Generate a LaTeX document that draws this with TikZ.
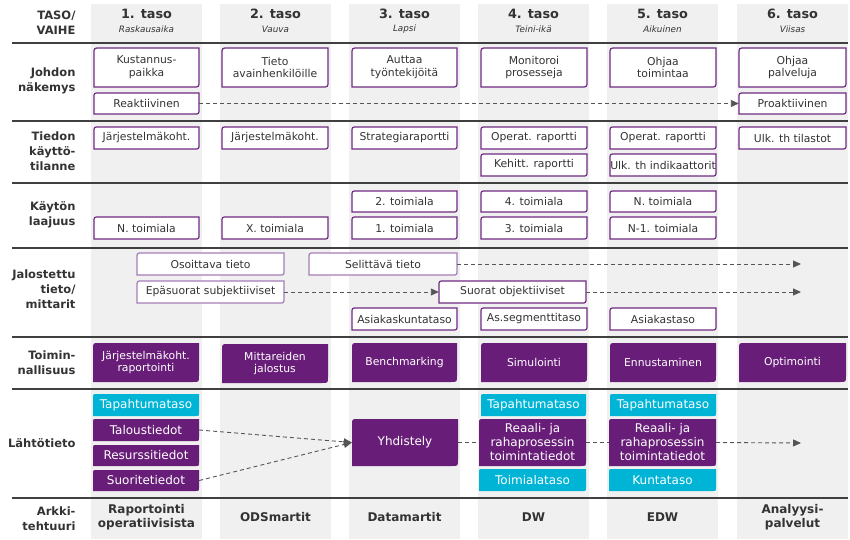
\documentclass[tikz,border=0pt]{standalone}
\usepackage{fontspec}
\setmainfont{DejaVu Sans}
\usetikzlibrary{arrows.meta}
\definecolor{pb}{HTML}{702B83}
\definecolor{pl}{HTML}{A67DB8}
\definecolor{pf}{HTML}{681E78}
\definecolor{cy}{HTML}{00B4D6}
\definecolor{colg}{HTML}{F0F0F0}
\definecolor{rulec}{HTML}{404040}
\definecolor{txt}{HTML}{333333}
\definecolor{dashc}{HTML}{555555}
\tikzset{
  wshape/.style={draw=pb, line width=1.2pt, fill=white},
  lshape/.style={draw=pl, line width=1.2pt, fill=white},
  fshape/.style={fill=pf},
  cshape/.style={fill=cy},
  wtext/.style={text=txt, font=\fontsize{10.8}{12.7}\selectfont, align=center},
  ftext/.style={text=white, font=\fontsize{10.8}{12.7}\selectfont, align=center},
  btext/.style={text=white, font=\fontsize{12}{14}\selectfont, align=center},
  rowlab/.style={anchor=east, text=txt, font=\fontsize{11.5}{14.8}\selectfont\bfseries, align=right},
  colhead/.style={text=txt, font=\fontsize{12.8}{14}\selectfont\bfseries},
  colsub/.style={text=txt, font=\fontsize{8.8}{10}\selectfont\itshape},
  archlab/.style={text=txt, font=\fontsize{12}{14}\selectfont\bfseries, align=center},
  rulel/.style={draw=rulec, line width=2.2pt},
  darrow/.style={draw=dashc, line width=0.9pt, dash pattern=on 4pt off 3pt, -{Triangle[length=8pt,width=7pt]}},
  dline/.style={draw=dashc, line width=0.9pt, dash pattern=on 4pt off 3pt}
}
% #1 shape style, #2 text style, #3 name, #4 x1, #5 y1, #6 x2, #7 y2, #8 radius, #9 text
\newcommand\bx[9]{%
  \path[#1] (#4,#7) -- (#4,{#5+#8}) .. controls (#4,#5) .. ({#4+#8},#5) -- (#6,#5) -- (#6,{#7-#8}) .. controls (#6,#7) .. ({#6-#8},#7) -- cycle;
  \node[#2, minimum width={#6pt-#4pt}, minimum height={#7pt-#5pt}, inner sep=0pt] (#3) at ({(#4+#6)/2},{(#5+#7)/2}) {#9};
}
\begin{document}
\begin{tikzpicture}[x=1pt,y=-1pt]
\useasboundingbox (0,0) rectangle (850,539);
% gray columns
\foreach \xl in {91,220,349,478,607,737} {
  \fill[colg] (\xl,4) rectangle ({\xl+111},539);
}
% rules
\foreach \yy in {43,121,183,248,337,389,498} {
  \draw[rulel] (12,\yy) -- (848,\yy);
}
% column headers
\node[colhead] (h1) at (146.5,14) {1. taso};
\node[colsub] (s1) at (146.5,29.5) {Raskausaika};
\node[colhead] (h2) at (275.5,14) {2. taso};
\node[colsub] (s2) at (275.5,29.5) {Vauva};
\node[colhead] (h3) at (404.5,14) {3. taso};
\node[colsub] (s3) at (404.5,29.5) {Lapsi};
\node[colhead] (h4) at (533.5,14) {4. taso};
\node[colsub] (s4) at (533.5,29.5) {Teini-ikä};
\node[colhead] (h5) at (662.5,14) {5. taso};
\node[colsub] (s5) at (662.5,29.5) {Aikuinen};
\node[colhead] (h6) at (792.5,14) {6. taso};
\node[colsub] (s6) at (792.5,29.5) {Viisas};
% row labels
\node[rowlab] (r0) at (79,23) {TASO/\\VAIHE};
\node[rowlab] (r1) at (79,81) {Johdon\\näkemys};
\node[rowlab] (r2) at (79,151) {Tiedon\\käyttö-\\tilanne};
\node[rowlab] (r3) at (79,215) {Käytön\\laajuus};
\node[rowlab] (r4) at (79,289) {Jalostettu\\tieto/\\mittarit};
\node[rowlab] (r5) at (79,363) {Toimin-\\nallisuus};
\node[rowlab] (r6) at (79,443) {Lähtötieto};
\node[rowlab] (r7) at (79,519) {Arkki-\\tehtuuri};
% Johdon näkemys
\bx{wshape}{wtext}{jn1}{94}{48}{199}{87}{6}{Kustannus-\\paikka}
\bx{wshape}{wtext}{jn2}{222}{48}{328}{87}{6}{Tieto\\avainhenkilöille}
\bx{wshape}{wtext}{jn3}{352}{48}{457}{87}{6}{Auttaa\\työntekijöitä}
\bx{wshape}{wtext}{jn4}{481}{48}{587}{87}{6}{Monitoroi\\prosesseja}
\bx{wshape}{wtext}{jn5}{610}{48}{716}{87}{6}{Ohjaa\\toimintaa}
\bx{wshape}{wtext}{jn6}{739}{48}{846}{87}{6}{Ohjaa\\palveluja}
\bx{wshape}{wtext}{reak}{94}{93}{199}{114}{5}{Reaktiivinen}
\bx{wshape}{wtext}{proak}{739}{93}{846}{114}{5}{Proaktiivinen}
% Tiedon käyttötilanne
\bx{wshape}{wtext}{tk1}{94}{127}{199}{149}{5}{Järjestelmäkoht.}
\bx{wshape}{wtext}{tk2}{222}{127}{328}{149}{5}{Järjestelmäkoht.}
\bx{wshape}{wtext}{tk3}{352}{127}{457}{149}{5}{Strategiaraportti}
\bx{wshape}{wtext}{tk4}{481}{127}{587}{149}{5}{Operat. raportti}
\bx{wshape}{wtext}{tk5}{610}{127}{716}{149}{5}{Operat. raportti}
\bx{wshape}{wtext}{tk6}{739}{127}{846}{149}{5}{Ulk. th tilastot}
\bx{wshape}{wtext}{tk4b}{481}{154}{587}{176}{5}{Kehitt. raportti}
\bx{wshape}{wtext}{tk5b}{610}{154}{716}{176}{5}{Ulk. th indikaattorit}
% Käytön laajuus
\bx{wshape}{wtext}{kl1}{94}{217}{199}{239}{5}{N. toimiala}
\bx{wshape}{wtext}{kl2}{222}{217}{328}{239}{5}{X. toimiala}
\bx{wshape}{wtext}{kl3a}{352}{191}{457}{212}{5}{2. toimiala}
\bx{wshape}{wtext}{kl3b}{352}{217}{457}{239}{5}{1. toimiala}
\bx{wshape}{wtext}{kl4a}{481}{191}{587}{212}{5}{4. toimiala}
\bx{wshape}{wtext}{kl4b}{481}{217}{587}{239}{5}{3. toimiala}
\bx{wshape}{wtext}{kl5a}{610}{191}{716}{212}{5}{N. toimiala}
\bx{wshape}{wtext}{kl5b}{610}{217}{716}{239}{5}{N-1. toimiala}
% Jalostettu tieto / mittarit
\bx{lshape}{wtext}{osoit}{137}{253}{284}{275}{5}{Osoittava tieto}
\bx{lshape}{wtext}{selit}{309}{253}{457}{275}{5}{Selittävä tieto}
\bx{lshape}{wtext}{epas}{137}{281}{284}{303}{5}{Epäsuorat subjektiiviset}
\bx{wshape}{wtext}{suor}{439}{281}{586}{303}{5}{Suorat objektiiviset}
\bx{wshape}{wtext}{ak3}{352}{308}{457}{330}{5}{Asiakaskuntataso}
\bx{wshape}{wtext}{ak4}{481}{308}{587}{330}{5}{As.segmenttitaso}
\bx{wshape}{wtext}{ak5}{610}{308}{716}{330}{5}{Asiakastaso}
\coordinate (endA) at (801,264);
\coordinate (endB) at (801,292);
% Toiminnallisuus
\bx{fshape}{ftext}{to1}{93}{343}{199}{382}{6}{Järjestelmäkoht.\\raportointi}
\bx{fshape}{ftext}{to2}{222}{344}{328}{383}{6}{Mittareiden\\jalostus}
\bx{fshape}{ftext}{to3}{352}{343}{457}{382}{6}{Benchmarking}
\bx{fshape}{ftext}{to4}{481}{343}{587}{382}{6}{Simulointi}
\bx{fshape}{ftext}{to5}{610}{343}{716}{382}{6}{Ennustaminen}
\bx{fshape}{ftext}{to6}{739}{343}{846}{382}{6}{Optimointi}
% Lähtötieto
\bx{cshape}{btext}{lt1a}{93}{394}{199}{416}{3}{Tapahtumataso}
\bx{fshape}{btext}{lt1b}{93}{419}{199}{441}{3}{Taloustiedot}
\bx{fshape}{btext}{lt1c}{93}{445}{199}{466}{3}{Resurssitiedot}
\bx{fshape}{btext}{lt1d}{93}{470}{199}{491}{3}{Suoritetiedot}
\bx{fshape}{btext}{yhd}{352}{419}{458}{466}{6}{Yhdistely}
\bx{cshape}{btext}{lt4a}{481}{394}{586}{416}{3}{Tapahtumataso}
\bx{fshape}{btext}{lt4b}{479}{419}{586}{466}{5}{Reaali- ja\\rahaprosessin\\toimintatiedot}
\bx{cshape}{btext}{lt4c}{479}{469}{586}{491}{3}{Toimialataso}
\bx{cshape}{btext}{lt5a}{610}{394}{716}{416}{3}{Tapahtumataso}
\bx{fshape}{btext}{lt5b}{609}{419}{716}{466}{5}{Reaali- ja\\rahaprosessin\\toimintatiedot}
\bx{cshape}{btext}{lt5c}{609}{469}{716}{491}{3}{Kuntataso}
\coordinate (endC) at (801,443);
% Arkkitehtuuri
\node[archlab] (a1) at (146.5,517) {Raportointi\\operatiivisista};
\node[archlab] (a2) at (275.5,517) {ODSmartit};
\node[archlab] (a3) at (404.5,517) {Datamartit};
\node[archlab] (a4) at (533.5,517) {DW};
\node[archlab] (a5) at (662.5,517) {EDW};
\node[archlab] (a6) at (792.5,517) {Analyysi-\\palvelut};
% connectors
\draw[darrow] (reak.east) -- (proak.west);
\draw[darrow] (selit.east) -- (endA);
\draw[darrow] (epas.east) -- (suor.west);
\draw[darrow] (suor.east) -- (endB);
\draw[darrow] (lt1b.east) -- (yhd.west);
\draw[darrow] (lt1d.east) -- (yhd.west);
\draw[dline] (yhd.east) -- (lt4b.west);
\draw[dline] (lt4b.east) -- (lt5b.west);
\draw[darrow] (lt5b.east) -- (endC);
\end{tikzpicture}
\end{document}
